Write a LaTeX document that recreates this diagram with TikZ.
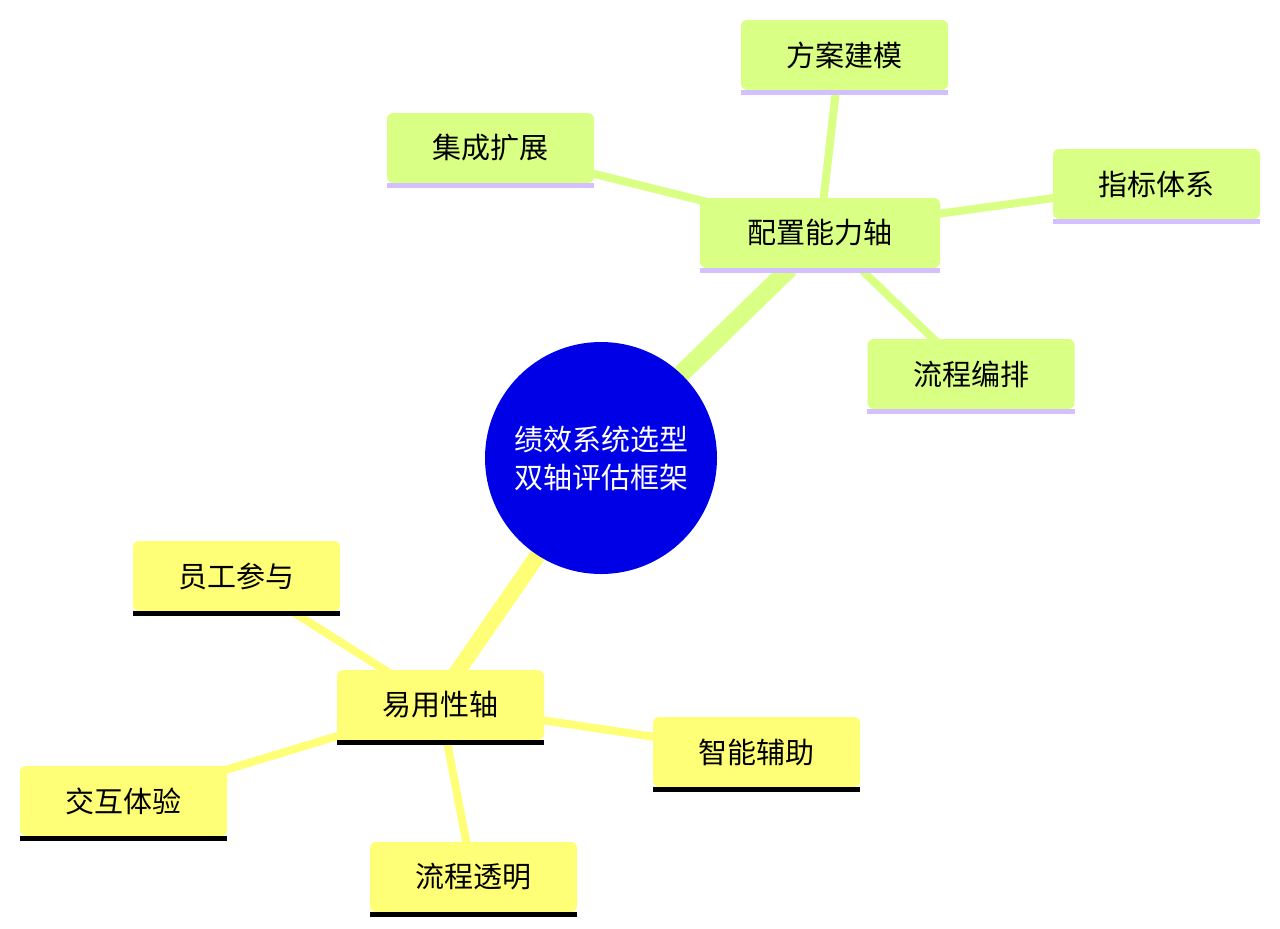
\documentclass[tikz,border=0pt]{standalone}
\usepackage{fontspec}
\newfontfamily\cjk{Noto Sans CJK SC}
\definecolor{gfill}{HTML}{D9FF85}
\definecolor{gbar}{HTML}{D4BFFF}
\definecolor{yfill}{HTML}{FFFF77}
\definecolor{ybar}{HTML}{AAAAFF}
\definecolor{cblue}{HTML}{0000E6}
\begin{document}
\begin{tikzpicture}[x=1pt,y=-1pt,
  gbox/.style={fill=gfill,rounded corners=6pt,minimum width=207pt,minimum height=70pt,font=\cjk\fontsize{29}{34}\selectfont,inner sep=0pt},
  ybox/.style={gbox,fill=yfill},
  gl/.style={draw=gfill,line width=8pt},
  yl/.style={draw=yfill,line width=8pt}]
\useasboundingbox (0,0) rectangle (1280,929);
% connectors
\coordinate (c1) at (680,375);
\coordinate (c2) at (538,555);
\draw[draw=gfill,line width=18pt] (c1) -- (790,268);
\draw[draw=yfill,line width=16pt] (c2) -- (455,675);
\draw[gl] (820,230) -- (840,55);
\draw[gl] (820,230) -- (490,148);
\draw[gl] (820,230) -- (1156,184);
\draw[gl] (820,230) -- (970,374);
\draw[yl] (440,705) -- (236,576);
\draw[yl] (440,705) -- (756,752);
\draw[yl] (440,705) -- (123,801);
\draw[yl] (440,705) -- (473,877);
% center
\node[circle,fill=cblue,minimum size=232pt,text=white,align=center,font=\cjk\fontsize{29}{38}\selectfont] (ctr) at (601,458) {绩效系统选型\\双轴评估框架};
% boxes
\newcommand\gb[4]{\node[gbox,minimum width=#3] (#1) at #2 {#4};
  \fill[gbar] ([yshift=-5pt]#1.south west) rectangle (#1.south east);}
\newcommand\yb[4]{\node[ybox,minimum width=#3] (#1) at #2 {#4};
  \fill[ybar] ([yshift=-5pt]#1.south west) rectangle (#1.south east);}
\gb{a}{(820,233)}{240pt}{配置能力轴}
\gb{a1}{(844.5,55)}{207pt}{方案建模}
\gb{a2}{(490.5,148)}{207pt}{集成扩展}
\gb{a3}{(1156.5,184)}{207pt}{指标体系}
\gb{a4}{(971,374)}{207pt}{流程编排}
\yb{b}{(440.5,705)}{207pt}{易用性轴}
\yb{b1}{(236.5,576)}{207pt}{员工参与}
\yb{b2}{(756.5,752)}{207pt}{智能辅助}
\yb{b3}{(123.5,801)}{207pt}{交互体验}
\yb{b4}{(473.5,877)}{207pt}{流程透明}
\end{tikzpicture}
\end{document}
